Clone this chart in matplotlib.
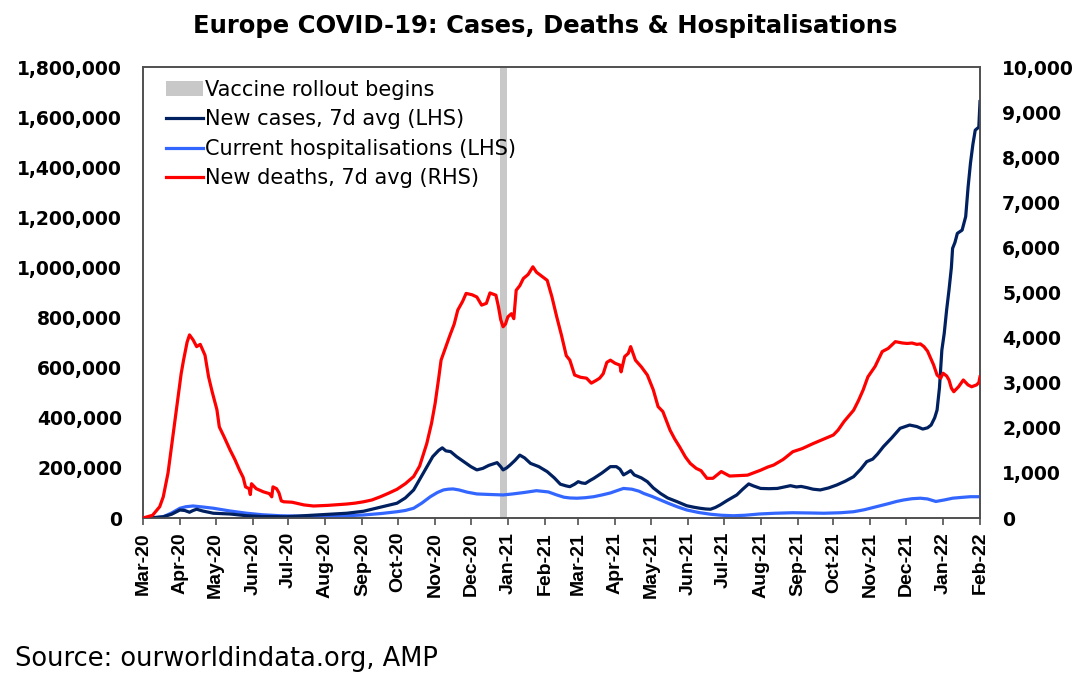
import matplotlib
matplotlib.use("Agg")
import matplotlib.pyplot as plt
import matplotlib.dates as mdates
import matplotlib.ticker as mticker
from matplotlib.patches import Patch
from matplotlib.lines import Line2D
import pandas as pd

plt.rcParams['font.family'] = ['DejaVu Sans']

START = "2020-03-01"

# ---- data (days since 1 Mar 2020, value) ----
death_days = [0, 8, 14, 17, 21, 25, 29, 32, 34, 37, 39, 42, 45, 48, 52, 55, 58, 62, 64, 68, 73, 77, 81, 84, 86,
              89, 90, 91, 95, 101, 106, 108, 109, 112, 114, 116, 118, 125, 135, 143, 155, 165, 171, 178, 185,
              192, 199, 206, 213, 220, 227, 232, 238, 242, 245, 248, 250, 254, 257, 261, 264, 268, 271, 276,
              280, 284, 288, 291, 296, 298, 300, 302, 304, 306, 309, 311, 313, 316, 319, 323, 327, 330, 335,
              339, 343, 347, 351, 355, 358, 362, 367, 372, 376, 380, 383, 386, 389, 392, 396, 400, 401, 404,
              407, 409, 413, 418, 423, 428, 432, 436, 442, 446, 450, 455, 459, 464, 468, 473, 478, 485, 492,
              499, 507, 512, 518, 524, 529, 537, 545, 553, 562, 571, 579, 583, 588, 596, 600, 604, 608, 614,
              620, 625, 631, 637, 641, 645, 649, 652, 655, 658, 660, 663, 666, 669, 671, 674, 676, 678, 680,
              684, 688, 692, 695, 699, 701, 702]
new_deaths = [0, 60, 250, 470, 1000, 1800, 2600, 3200, 3500, 3900, 4060, 3950, 3800, 3850, 3610, 3130, 2800,
              2400, 2020, 1800, 1510, 1300, 1060, 900, 690, 650, 520, 760, 650, 580, 540, 470, 690, 650, 560,
              380, 360, 350, 290, 266, 280, 300, 310, 330, 360, 400, 470, 550, 636, 760, 920, 1150, 1650, 2100,
              2540, 3100, 3500, 3800, 4020, 4300, 4610, 4800, 4980, 4950, 4900, 4720, 4760, 4990, 4940, 4700,
              4400, 4240, 4300, 4460, 4530, 4420, 5050, 5150, 5310, 5400, 5570, 5450, 5350, 5270, 4900, 4460,
              4050, 3600, 3500, 3170, 3120, 3100, 2990, 3050, 3100, 3200, 3450, 3500, 3430, 3390, 3240, 3580,
              3650, 3800, 3500, 3350, 3170, 2840, 2470, 2360, 1950, 1750, 1580, 1350, 1210, 1100, 1050, 880,
              880, 1030, 930, 940, 950, 1000, 1060, 1130, 1175, 1300, 1470, 1540, 1650, 1750, 1840, 1950, 2140,
              2390, 2600, 2840, 3130, 3360, 3690, 3760, 3910, 3880, 3870, 3880, 3850, 3860, 3800, 3700, 3580,
              3400, 3170, 3100, 3210, 3150, 3060, 2880, 2800, 2910, 3060, 2950, 2910, 2950, 3000, 3130]

case_days = [0, 10, 17, 24, 31, 35, 39, 42, 45, 50, 59, 73, 87, 100, 120, 146, 171, 185, 199, 213, 220, 227,
             235, 240, 243, 248, 251, 254, 258, 263, 269, 275, 280, 285, 290, 295, 297, 300, 302, 305, 308,
             312, 316, 320, 325, 332, 339, 345, 350, 355, 358, 362, 365, 368, 371, 375, 378, 385, 392, 397,
             400, 403, 406, 409, 412, 418, 423, 428, 434, 440, 448, 456, 462, 467, 472, 476, 480, 484, 490,
             498, 503, 508, 512, 518, 525, 532, 538, 543, 548, 552, 557, 562, 568, 575, 582, 589, 596, 602,
             607, 612, 616, 621, 628, 635, 643, 649, 654, 658, 661, 664, 666, 668, 670, 672, 674, 676, 678,
             679, 681, 683, 687, 690, 692, 694, 696, 698, 700, 701, 702]
new_cases_k = [0, 2, 5, 15, 32, 30, 23, 30, 35, 28, 19, 16, 9, 6, 5, 12, 19, 27, 43, 59, 80, 112, 178, 220,
               245, 270, 280, 268, 265, 245, 225, 205, 192, 198, 210, 218, 221, 205, 192, 200, 212, 230, 251,
               240, 218, 205, 185, 160, 135, 128, 125, 135, 145, 140, 138, 150, 158, 180, 205, 205, 195, 172,
               180, 189, 172, 160, 145, 120, 98, 80, 65, 49, 43, 39, 36, 35, 42, 52, 70, 92, 115, 136, 128,
               118, 117, 118, 124, 129, 124, 126, 121, 115, 112, 120, 132, 147, 165, 195, 225, 235, 255, 285,
               320, 358, 371, 365, 355, 360, 371, 400, 431, 520, 670, 737, 830, 910, 1000, 1076, 1100, 1136,
               1149, 1203, 1320, 1416, 1490, 1548, 1556, 1560, 1662]

hosp_days = [0, 10, 17, 24, 31, 36, 42, 50, 59, 73, 87, 100, 115, 135, 157, 170, 185, 200, 213, 220, 227, 234,
             241, 247, 252, 256, 260, 265, 272, 280, 290, 302, 310, 320, 330, 340, 347, 353, 358, 364, 371,
             378, 385, 392, 398, 403, 410, 416, 420, 427, 434, 441, 448, 456, 466, 476, 485, 495, 505, 517,
             530, 545, 560, 571, 585, 596, 605, 615, 625, 632, 638, 645, 652, 658, 665, 672, 679, 686, 694, 702]
hosp_k = [0, 1, 5, 20, 39, 45, 48, 44, 39, 28, 19, 13, 9, 7, 7, 9, 12, 18, 25, 30, 39, 60, 85, 102, 112, 115,
          116, 112, 103, 96, 94, 92, 96, 102, 109, 104, 92, 83, 80, 79, 81, 85, 92, 100, 110, 118, 115, 107,
          98, 86, 72, 58, 45, 32, 22, 15, 11, 9, 11, 16, 19, 21, 20, 19, 21, 25, 33, 45, 57, 66, 72, 77, 79,
          76, 66, 72, 79, 82, 85, 85]

vaccine_start = "2020-12-25"
vaccine_end = "2020-12-31"

labels = ["Vaccine rollout begins", "New cases, 7d avg (LHS)",
          "Current hospitalisations (LHS)", "New deaths, 7d avg (RHS)"]

# ---- build ----
start = pd.Timestamp(START)
to_dates = lambda ds: [start + pd.Timedelta(days=d) for d in ds]
d_dates = to_dates(death_days)
c_dates = to_dates(case_days)
h_dates = to_dates(hosp_days)
new_cases = [v * 1000 for v in new_cases_k]
hosp = [v * 1000 for v in hosp_k]

NAVY = "#002060"
BLUE = "#3366FF"
RED = "#FF0000"
GREY = "#C8C8C8"

fig = plt.figure(figsize=(10.79, 6.96), dpi=100)
ax = fig.add_axes([143 / 1079, 1 - 518 / 696, (980 - 143) / 1079, (518 - 67) / 696])
ax2 = ax.twinx()

ax.axvspan(pd.Timestamp(vaccine_start), pd.Timestamp(vaccine_end), color=GREY, lw=0, zorder=1)
ax.plot(h_dates, hosp, color=BLUE, lw=2.3, zorder=3, solid_joinstyle='round')
ax.plot(c_dates, new_cases, color=NAVY, lw=2.3, zorder=4, solid_joinstyle='round')
ax2.plot(d_dates, new_deaths, color=RED, lw=2.3, zorder=3, solid_joinstyle='round')

ax.set_xlim(pd.Timestamp("2020-03-01"), pd.Timestamp("2022-02-01"))
ax.set_ylim(0, 1800000)
ax2.set_ylim(0, 10000)
ax.yaxis.set_major_locator(mticker.MultipleLocator(200000))
ax2.yaxis.set_major_locator(mticker.MultipleLocator(1000))
fmt = mticker.FuncFormatter(lambda v, p: f"{int(v):,}")
ax.yaxis.set_major_formatter(fmt)
ax2.yaxis.set_major_formatter(fmt)
ax.xaxis.set_major_locator(mdates.MonthLocator())
ax.xaxis.set_major_formatter(mdates.DateFormatter("%b-%y"))

for a in (ax, ax2):
    for s in a.spines.values():
        s.set_color("#505050")
        s.set_linewidth(1.2)

ax.tick_params(axis='y', length=0, pad=15, labelsize=13.5)
ax2.tick_params(axis='y', length=0, pad=16, labelsize=13.5)
ax.tick_params(axis='x', length=5, width=1.2, color="#505050", direction='out', pad=5,
               labelrotation=90)
for lab in ax.get_yticklabels() + ax2.get_yticklabels():
    lab.set_fontweight('bold')
for lab in ax.get_xticklabels():
    lab.set_fontweight('bold')
    lab.set_fontfamily(['Liberation Sans'])
    lab.set_fontsize(14)

handles = [Patch(facecolor=GREY, edgecolor='none'),
           Line2D([], [], color=NAVY, lw=2.3),
           Line2D([], [], color=BLUE, lw=2.3),
           Line2D([], [], color=RED, lw=2.3)]
leg = ax2.legend(handles, labels, loc='upper left', bbox_to_anchor=(0.027, 0.971), frameon=False,
                 fontsize=15, handlelength=1.8, handletextpad=0.08, labelspacing=0.45, borderaxespad=0,
                 borderpad=0)

fig.text(545.5 / 1079, 1 - 26 / 696, "Europe COVID-19: Cases, Deaths & Hospitalisations", ha='center',
         va='center', fontsize=17.5, fontweight='bold')
fig.text(15 / 1079, 1 - 666 / 696, "Source: ourworldindata.org, AMP", ha='left', va='baseline', fontsize=18.5)

fig.savefig("out.png", dpi=100)
